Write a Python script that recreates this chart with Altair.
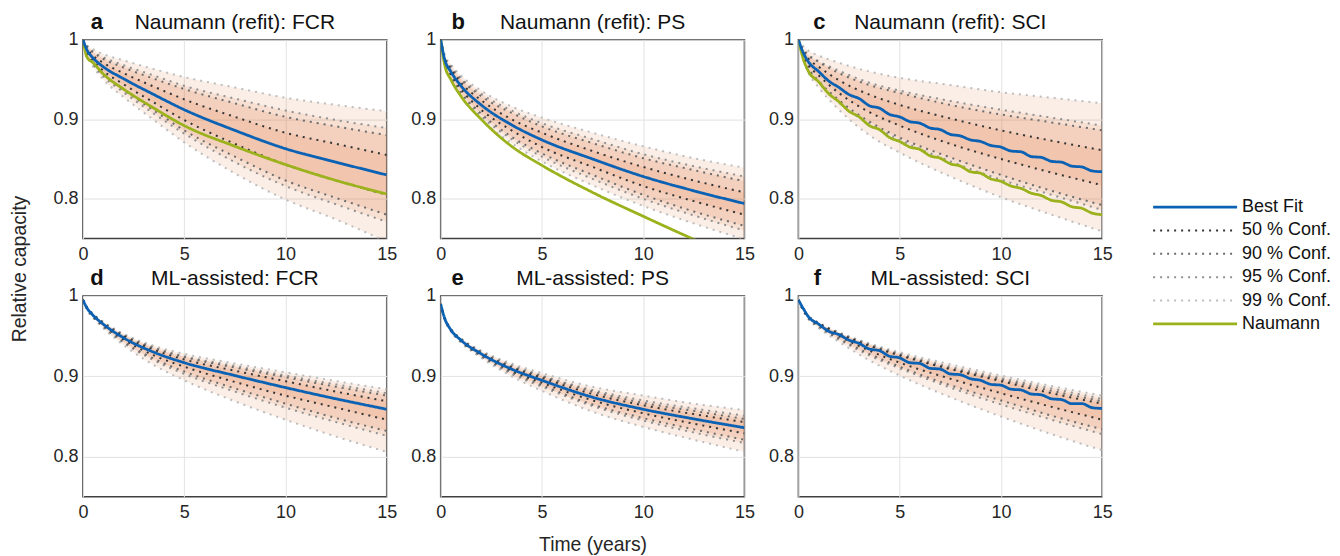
import altair as alt
import pandas as pd

# ---------------- data ----------------
T = [0, 0.2, 0.5, 1, 2, 3.5, 5, 7.5, 10, 12.5, 15]
T_FINE = [0, 0.25, 0.5, 1, 1.5, 2, 2.5, 3, 3.5, 4, 4.5, 5, 5.5, 6, 6.5, 7, 7.5, 8,
          8.5, 9, 9.5, 10, 10.5, 11, 11.5, 12, 12.5, 13, 13.5, 14, 14.5, 15]

# a  Naumann (refit): FCR
A_BEST = [1.000, 0.987, 0.977, 0.966, 0.951, 0.931, 0.912, 0.886, 0.863, 0.846, 0.830]
A_NAUMANN = [1.000, 0.978, 0.971, 0.957, 0.938, 0.914, 0.892, 0.866, 0.843, 0.823, 0.806]
A_U50 = [1.000, 0.989, 0.980, 0.971, 0.958, 0.941, 0.925, 0.903, 0.883, 0.869, 0.855]
A_L50 = [1.000, 0.985, 0.974, 0.961, 0.944, 0.921, 0.899, 0.869, 0.843, 0.823, 0.805]
A_U90 = [1.000, 0.991, 0.984, 0.976, 0.965, 0.951, 0.938, 0.920, 0.903, 0.891, 0.880]
A_L90 = [1.000, 0.983, 0.970, 0.956, 0.937, 0.911, 0.886, 0.853, 0.823, 0.801, 0.780]
A_U95 = [1.000, 0.992, 0.985, 0.978, 0.968, 0.955, 0.942, 0.926, 0.911, 0.899, 0.889]
A_L95 = [1.000, 0.982, 0.969, 0.954, 0.934, 0.907, 0.882, 0.846, 0.816, 0.793, 0.771]
A_U99 = [1.000, 0.993, 0.988, 0.982, 0.974, 0.963, 0.953, 0.940, 0.927, 0.918, 0.910]
A_L99 = [1.000, 0.981, 0.966, 0.950, 0.928, 0.899, 0.871, 0.832, 0.799, 0.774, 0.746]

# b  Naumann (refit): PS
B_BEST = [1.000, 0.975, 0.960, 0.942, 0.918, 0.893, 0.874, 0.850, 0.828, 0.810, 0.794]
B_NAUMANN = [1.000, 0.968, 0.950, 0.929, 0.900, 0.866, 0.842, 0.808, 0.778, 0.749, 0.722]
B_U50 = [1.000, 0.977, 0.963, 0.946, 0.924, 0.900, 0.883, 0.860, 0.840, 0.823, 0.808]
B_L50 = [1.000, 0.973, 0.957, 0.938, 0.912, 0.886, 0.865, 0.840, 0.816, 0.797, 0.780]
B_U90 = [1.000, 0.978, 0.965, 0.950, 0.929, 0.908, 0.891, 0.870, 0.851, 0.836, 0.822]
B_L90 = [1.000, 0.972, 0.955, 0.934, 0.907, 0.878, 0.857, 0.830, 0.805, 0.784, 0.766]
B_U95 = [1.000, 0.979, 0.967, 0.952, 0.932, 0.911, 0.895, 0.875, 0.856, 0.841, 0.828]
B_L95 = [1.000, 0.971, 0.953, 0.932, 0.904, 0.875, 0.853, 0.825, 0.800, 0.779, 0.760]
B_U99 = [1.000, 0.981, 0.969, 0.955, 0.936, 0.916, 0.902, 0.883, 0.866, 0.851, 0.839]
B_L99 = [1.000, 0.970, 0.951, 0.929, 0.900, 0.870, 0.847, 0.817, 0.791, 0.769, 0.749]

# c  Naumann (refit): SCI  (lines on the finer grid)
C_BEST = [1.000, 0.983, 0.972, 0.960, 0.948, 0.940, 0.931, 0.926, 0.917, 0.914, 0.906,
          0.903, 0.897, 0.895, 0.889, 0.887, 0.881, 0.879, 0.874, 0.872, 0.867, 0.865,
          0.860, 0.859, 0.853, 0.852, 0.847, 0.846, 0.841, 0.840, 0.835, 0.834]
C_NAUMANN = [1.000, 0.975, 0.960, 0.947, 0.932, 0.922, 0.910, 0.903, 0.892, 0.887, 0.877,
             0.872, 0.865, 0.862, 0.854, 0.851, 0.844, 0.841, 0.834, 0.832, 0.825, 0.822,
             0.816, 0.813, 0.807, 0.804, 0.798, 0.796, 0.790, 0.788, 0.782, 0.780]
C_U50 = [1.000, 0.987, 0.976, 0.966, 0.949, 0.931, 0.918, 0.901, 0.886, 0.873, 0.861]
C_L50 = [1.000, 0.983, 0.968, 0.955, 0.933, 0.909, 0.892, 0.869, 0.850, 0.833, 0.817]
C_U90 = [1.000, 0.989, 0.980, 0.972, 0.958, 0.943, 0.933, 0.918, 0.906, 0.896, 0.886]
C_L90 = [1.000, 0.981, 0.964, 0.948, 0.924, 0.897, 0.877, 0.852, 0.830, 0.810, 0.792]
C_U95 = [1.000, 0.990, 0.981, 0.973, 0.961, 0.946, 0.936, 0.923, 0.912, 0.902, 0.892]
C_L95 = [1.000, 0.980, 0.963, 0.947, 0.921, 0.894, 0.874, 0.847, 0.824, 0.805, 0.786]
C_U99 = [1.000, 0.993, 0.986, 0.980, 0.971, 0.960, 0.952, 0.943, 0.934, 0.927, 0.920]
C_L99 = [1.000, 0.978, 0.958, 0.940, 0.912, 0.880, 0.858, 0.828, 0.802, 0.780, 0.759]

# d  ML-assisted: FCR
D_BEST = [0.995, 0.985, 0.976, 0.965, 0.948, 0.930, 0.917, 0.901, 0.886, 0.872, 0.859]
D_U50 = [0.995, 0.985, 0.977, 0.966, 0.950, 0.933, 0.921, 0.907, 0.894, 0.881, 0.869]
D_L50 = [0.995, 0.985, 0.975, 0.964, 0.946, 0.926, 0.912, 0.893, 0.876, 0.861, 0.846]
D_U90 = [0.995, 0.986, 0.977, 0.967, 0.951, 0.935, 0.924, 0.911, 0.899, 0.887, 0.876]
D_L90 = [0.995, 0.984, 0.974, 0.962, 0.943, 0.922, 0.906, 0.885, 0.866, 0.848, 0.832]
D_U95 = [0.995, 0.986, 0.977, 0.967, 0.952, 0.936, 0.925, 0.913, 0.901, 0.890, 0.879]
D_L95 = [0.995, 0.984, 0.974, 0.962, 0.942, 0.920, 0.903, 0.881, 0.861, 0.843, 0.826]
D_U99 = [0.995, 0.986, 0.978, 0.968, 0.953, 0.938, 0.928, 0.916, 0.905, 0.894, 0.884]
D_L99 = [0.995, 0.983, 0.973, 0.960, 0.939, 0.914, 0.895, 0.869, 0.846, 0.825, 0.806]

# e  ML-assisted: PS
E_BEST = [0.990, 0.972, 0.958, 0.945, 0.928, 0.909, 0.895, 0.874, 0.859, 0.847, 0.836]
E_U50 = [0.990, 0.972, 0.958, 0.946, 0.929, 0.911, 0.898, 0.878, 0.864, 0.853, 0.843]
E_L50 = [0.990, 0.972, 0.958, 0.944, 0.927, 0.907, 0.892, 0.870, 0.854, 0.841, 0.829]
E_U90 = [0.990, 0.972, 0.959, 0.946, 0.930, 0.912, 0.900, 0.881, 0.867, 0.857, 0.847]
E_L90 = [0.990, 0.972, 0.957, 0.944, 0.925, 0.905, 0.889, 0.865, 0.848, 0.834, 0.821]
E_U95 = [0.990, 0.973, 0.959, 0.947, 0.931, 0.914, 0.901, 0.883, 0.870, 0.860, 0.851]
E_L95 = [0.990, 0.971, 0.957, 0.943, 0.925, 0.903, 0.887, 0.863, 0.845, 0.830, 0.817]
E_U99 = [0.990, 0.973, 0.959, 0.947, 0.932, 0.916, 0.904, 0.887, 0.876, 0.866, 0.858]
E_L99 = [0.990, 0.971, 0.956, 0.942, 0.923, 0.900, 0.882, 0.856, 0.837, 0.821, 0.806]

# f  ML-assisted: SCI  (best fit on the finer grid)
F_BEST = [0.995, 0.984, 0.974, 0.965, 0.956, 0.952, 0.945, 0.941, 0.934, 0.932, 0.925,
          0.923, 0.917, 0.916, 0.910, 0.909, 0.903, 0.902, 0.897, 0.895, 0.890, 0.889,
          0.884, 0.883, 0.878, 0.877, 0.872, 0.871, 0.866, 0.866, 0.861, 0.860]
F_U50 = [0.995, 0.985, 0.974, 0.966, 0.953, 0.938, 0.926, 0.909, 0.894, 0.879, 0.866]
F_L50 = [0.995, 0.985, 0.973, 0.964, 0.950, 0.932, 0.917, 0.897, 0.879, 0.862, 0.846]
F_U90 = [0.995, 0.985, 0.975, 0.966, 0.954, 0.939, 0.927, 0.910, 0.896, 0.882, 0.869]
F_L90 = [0.995, 0.984, 0.972, 0.962, 0.947, 0.928, 0.912, 0.889, 0.870, 0.851, 0.834]
F_U95 = [0.995, 0.985, 0.975, 0.966, 0.954, 0.940, 0.928, 0.912, 0.898, 0.885, 0.872]
F_L95 = [0.995, 0.984, 0.972, 0.962, 0.946, 0.926, 0.910, 0.886, 0.865, 0.846, 0.828]
F_U99 = [0.995, 0.986, 0.975, 0.967, 0.955, 0.941, 0.930, 0.915, 0.901, 0.888, 0.876]
F_L99 = [0.995, 0.983, 0.971, 0.960, 0.943, 0.920, 0.901, 0.874, 0.850, 0.828, 0.808]

SERIES = ["Best Fit", "50 % Conf.", "90 % Conf.", "95 % Conf.", "99 % Conf.", "Naumann"]
X_TICKS = [0, 5, 10, 15]
Y_TICKS = [0.8, 0.9, 1.0]

# ---------------- styling ----------------
FONT = "Liberation Sans"
SERIES_COLORS = ["#0b62b4", "#353535", "#6c6c6c", "#919191", "#bdbdbd", "#9cb21c"]
SERIES_DASH = [[1, 0], [2, 5], [2, 5], [2, 5], [2, 5], [1, 0]]
BAND_FILL = "#e0753a"
BAND_OPACITY = 0.12
W, H_TOP, H_BOT = 304, 199, 201

color_scale = alt.Scale(domain=SERIES, range=SERIES_COLORS)
dash_scale = alt.Scale(domain=SERIES, range=SERIES_DASH)

PANELS = [
    dict(letter="a", title="Naumann (refit): FCR", dx=14, t_line=T, best=A_BEST, naumann=A_NAUMANN,
         bounds={"99 % Conf.": (A_L99, A_U99), "95 % Conf.": (A_L95, A_U95),
                 "90 % Conf.": (A_L90, A_U90), "50 % Conf.": (A_L50, A_U50)}),
    dict(letter="b", title="Naumann (refit): PS", dx=17.5, t_line=T, best=B_BEST, naumann=B_NAUMANN,
         bounds={"99 % Conf.": (B_L99, B_U99), "95 % Conf.": (B_L95, B_U95),
                 "90 % Conf.": (B_L90, B_U90), "50 % Conf.": (B_L50, B_U50)}),
    dict(letter="c", title="Naumann (refit): SCI", dx=21, t_line=T_FINE, best=C_BEST, naumann=C_NAUMANN,
         bounds={"99 % Conf.": (C_L99, C_U99), "95 % Conf.": (C_L95, C_U95),
                 "90 % Conf.": (C_L90, C_U90), "50 % Conf.": (C_L50, C_U50)}),
    dict(letter="d", title="ML-assisted: FCR", dx=14, t_line=T, best=D_BEST, naumann=None,
         bounds={"99 % Conf.": (D_L99, D_U99), "95 % Conf.": (D_L95, D_U95),
                 "90 % Conf.": (D_L90, D_U90), "50 % Conf.": (D_L50, D_U50)}),
    dict(letter="e", title="ML-assisted: PS", dx=17, t_line=T, best=E_BEST, naumann=None,
         bounds={"99 % Conf.": (E_L99, E_U99), "95 % Conf.": (E_L95, E_U95),
                 "90 % Conf.": (E_L90, E_U90), "50 % Conf.": (E_L50, E_U50)}),
    dict(letter="f", title="ML-assisted: SCI", dx=19, t_line=T_FINE, best=F_BEST, naumann=None,
         bounds={"99 % Conf.": (F_L99, F_U99), "95 % Conf.": (F_L95, F_U95),
                 "90 % Conf.": (F_L90, F_U90), "50 % Conf.": (F_L50, F_U50)}),
]


def make_panel(p, height):
    area_rows, bound_rows = [], []
    for name, (lo, hi) in p["bounds"].items():
        for t, l, h in zip(T, lo, hi):
            area_rows.append({"t": t, "band": name, "lo": l, "hi": h})
            bound_rows.append({"t": t, "series": name, "bound": "lower", "v": l})
            bound_rows.append({"t": t, "series": name, "bound": "upper", "v": h})
    area_df = pd.DataFrame(area_rows)
    bound_df = pd.DataFrame(bound_rows)
    best_df = pd.DataFrame({"t": p["t_line"], "v": p["best"], "series": "Best Fit"})

    xsc = alt.Scale(domain=[0, 15], nice=False, zero=False)
    ysc = alt.Scale(domain=[0.75, 1.0], nice=False, zero=False)
    xaxis = alt.Axis(values=X_TICKS, labelPadding=7, labelFlush=False,
                     title=("Time (years)" if p["letter"] == "e" else None),
                     titleY=54, titleBaseline="alphabetic")
    yaxis = alt.Axis(values=Y_TICKS, format="~g", labelPadding=5, labelFlush=False,
                     title=("Relative capacity" if p["letter"] == "a" else None),
                     titleX=-57, titleY=229, titleAngle=270, titleAlign="center",
                     titleBaseline="alphabetic")
    X = alt.X("t:Q", scale=xsc, axis=xaxis)

    def ye(f):
        return alt.Y(f, scale=ysc, axis=yaxis)

    col = alt.Color("series:N", scale=color_scale, legend=None)
    dash = alt.StrokeDash("series:N", scale=dash_scale, legend=None)

    layers = [
        alt.Chart(area_df).mark_area(clip=True, interpolate="monotone", fill=BAND_FILL,
                                     fillOpacity=BAND_OPACITY, strokeWidth=0)
        .encode(x=X, y=ye("lo:Q"), y2="hi:Q", detail="band:N"),
        alt.Chart(bound_df).mark_line(clip=True, interpolate="monotone", strokeWidth=2)
        .encode(x=X, y=ye("v:Q"), color=col, strokeDash=dash, detail="bound:N"),
    ]
    if p["naumann"] is not None:
        n_df = pd.DataFrame({"t": p["t_line"], "v": p["naumann"], "series": "Naumann"})
        layers.append(alt.Chart(n_df).mark_line(clip=True, interpolate="monotone", strokeWidth=2.8)
                      .encode(x=X, y=ye("v:Q"), color=col, strokeDash=dash))
    layers.append(alt.Chart(best_df).mark_line(clip=True, interpolate="monotone", strokeWidth=2.8)
                  .encode(x=X, y=ye("v:Q"), color=col, strokeDash=dash))
    one = pd.DataFrame({"k": [0]})
    layers.append(alt.Chart(one).mark_text(text=p["title"], fontSize=21, align="center",
                                           baseline="alphabetic", color="#111")
                  .encode(x=alt.value(W / 2), y=alt.value(-11)))
    layers.append(alt.Chart(one).mark_text(text=p["letter"], fontSize=22, fontWeight="bold",
                                           align="center", baseline="alphabetic", color="#111")
                  .encode(x=alt.value(p["dx"]), y=alt.value(-11)))
    return alt.layer(*layers).properties(width=W, height=height)


panels = [make_panel(p, H_TOP) for p in PANELS[:3]] + [make_panel(p, H_BOT) for p in PANELS[3:]]

legend_df = pd.DataFrame({"series": SERIES, "i": list(range(len(SERIES)))})
ly = alt.Y("i:Q", axis=None, scale=alt.Scale(domain=[0, len(SERIES) - 1], range=[167.5, 284.5]))
lcol = alt.Color("series:N", scale=color_scale, legend=None)
ldash = alt.StrokeDash("series:N", scale=dash_scale, legend=None)
leg_solid = alt.Chart(legend_df).transform_filter(
    alt.FieldOneOfPredicate(field="series", oneOf=["Best Fit", "Naumann"])
).mark_rule(strokeWidth=2.8).encode(x=alt.value(-3), x2=alt.value(81), y=ly, color=lcol, strokeDash=ldash)
leg_dot = alt.Chart(legend_df).transform_filter(
    alt.FieldOneOfPredicate(field="series", oneOf=SERIES[1:5])
).mark_rule(strokeWidth=2).encode(x=alt.value(-3), x2=alt.value(81), y=ly, color=lcol, strokeDash=ldash)
leg_text = alt.Chart(legend_df).mark_text(align="left", baseline="middle", fontSize=18,
                                          color="#111").encode(
    x=alt.value(86), y=ly, text="series:N")
legend = alt.layer(leg_solid, leg_dot, leg_text).properties(
    width=165, height=H_TOP, view=alt.ViewBackground(stroke="transparent"))

chart = alt.concat(
    panels[0], panels[1], panels[2], legend, panels[3], panels[4], panels[5],
    columns=4, spacing={"row": 57.5, "column": 54}, bounds="flush"
).properties(
    padding={"left": 1, "top": 1.5, "right": 0, "bottom": 0},
    background="white",
).configure_view(
    stroke="#404040", strokeWidth=1.5
).configure_axis(
    labelFont=FONT, labelFontSize=18, labelColor="#262626",
    titleFont=FONT, titleFontSize=19.4, titleFontWeight="normal", titleColor="#262626",
    gridColor="#e2e2e2", gridWidth=1, domain=False, ticks=False
).configure_text(font=FONT)

chart.save("out.html", embed_options={"renderer": "svg", "actions": False})
